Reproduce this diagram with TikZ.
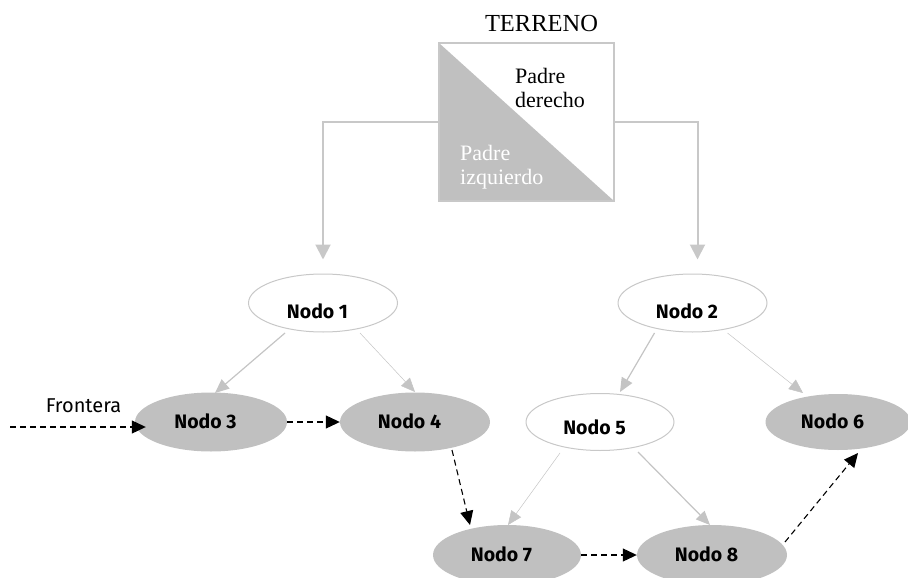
\documentclass[tikz,border=0pt]{standalone}
\usepackage{fontspec}
\setmainfont{Liberation Serif}
\newfontfamily\nodefont{Fira Sans}
\usetikzlibrary{arrows.meta,calc,shapes.geometric}
\definecolor{silverfill}{RGB}{192,192,192}
\definecolor{linegray}{RGB}{196,196,196}
\definecolor{boxgray}{RGB}{200,200,200}
\begin{document}
\begin{tikzpicture}[x=1pt,y=-1pt,
  nodo/.style={ellipse, inner sep=0pt, minimum width=149pt, minimum height=58pt,
    font=\nodefont\bfseries\fontsize{19.5}{22}\selectfont,
    text height=13.5pt, text depth=0pt, execute at end node={\kern11pt}},
  graynodo/.style={nodo, fill=silverfill},
  whitenodo/.style={nodo, draw=boxgray, line width=1pt, fill=white},
  terrarrow/.style={draw=boxgray, line width=2pt, -{Triangle[length=15pt,width=15pt]}},
  grayarrow/.style={draw=linegray, line width=1.2pt, -{Triangle[length=14pt,width=12pt,fill=linegray]}},
  faintarrow/.style={grayarrow, line width=0.5pt},
  dasharrow/.style={draw=black, line width=1.1pt, dash pattern=on 6pt off 4pt,
    -{Triangle[length=14pt,width=13pt]}},
  serif22/.style={font=\fontsize{22}{24}\selectfont, inner sep=0pt, align=left, anchor=west}
]
\useasboundingbox (0,0) rectangle (908,578);

% terrain box
\node[anchor=base, inner sep=0pt, font=\fontsize{24.5}{28}\selectfont] (terreno) at (541.5,32) {TERRENO};
\node[minimum width=175pt, minimum height=158pt, inner sep=0pt, draw=boxgray, line width=2pt,
  path picture={\fill[silverfill] (path picture bounding box.north west) -- (path picture bounding box.south west) -- (path picture bounding box.south east) -- cycle;}]
  (box) at (526.5,122) {};
\node[serif22] (pder) at (515,87.5) {Padre\\derecho};
\node[serif22, text=white] (pizq) at (460,167) {Padre\\izquierdo};

% nodes
\node[whitenodo, text height=31.5pt] (n1) at (323,303) {Nodo 1};
\node[whitenodo, text height=31.5pt] (n2) at (692.5,303) {Nodo 2};
\node[graynodo, minimum width=152pt, minimum height=59pt] (n3) at (211,422) {Nodo 3};
\node[graynodo, minimum width=150pt, minimum height=59pt] (n4) at (415,422) {Nodo 4};
\node[whitenodo, minimum width=148pt, minimum height=57pt, text height=25.5pt] (n5) at (600,422) {Nodo 5};
\node[graynodo, minimum width=145pt, minimum height=56pt] (n6) at (838,422) {Nodo 6};
\node[graynodo, minimum width=148pt, minimum height=60pt] (n7) at (507,555) {Nodo 7};
\node[graynodo, minimum width=150pt, minimum height=60pt] (n8) at (712,555) {Nodo 8};

\node[anchor=base, inner sep=0pt, font=\nodefont\fontsize{20}{22}\selectfont] (frontera) at (83.5,412) {Frontera};
\coordinate (fr) at (10,427);

% terrain connectors
\draw[terrarrow, shorten >=14pt] (box.west) -| (n1.north);
\draw[terrarrow, shorten >=14pt] (box.east) -| ([xshift=5pt]n2.north);

% gray tree connectors
\draw[grayarrow] ($(n1)+(-38,30)$) -- ($(n3)+(4,-29)$);
\draw[faintarrow] ($(n1)+(37,30)$) -- ($(n4)+(0,-30)$);
\draw[grayarrow] ($(n2)+(-38,30)$) -- ($(n5)+(20,-30)$);
\draw[faintarrow] ($(n2)+(35,30)$) -- ($(n6)+(-35,-29)$);
\draw[faintarrow] ($(n5)+(-40,31)$) -- ($(n7)+(1,-30)$);
\draw[grayarrow] ($(n5)+(38,30)$) -- ($(n8)+(-2,-30)$);

% frontier
\draw[dasharrow, shorten >=-11pt] (fr) -- (fr -| n3.west);
\draw[dasharrow] (n3.east) -- (n4.west);
\draw[dasharrow] ($(n4)+(37,28)$) -- ($(n7)+(-37,-30)$);
\draw[dasharrow] (n7.east) -- (n8.west);
\draw[dasharrow] ($(n8)+(73,-13)$) -- ($(n6)+(20,31)$);
\end{tikzpicture}
\end{document}
